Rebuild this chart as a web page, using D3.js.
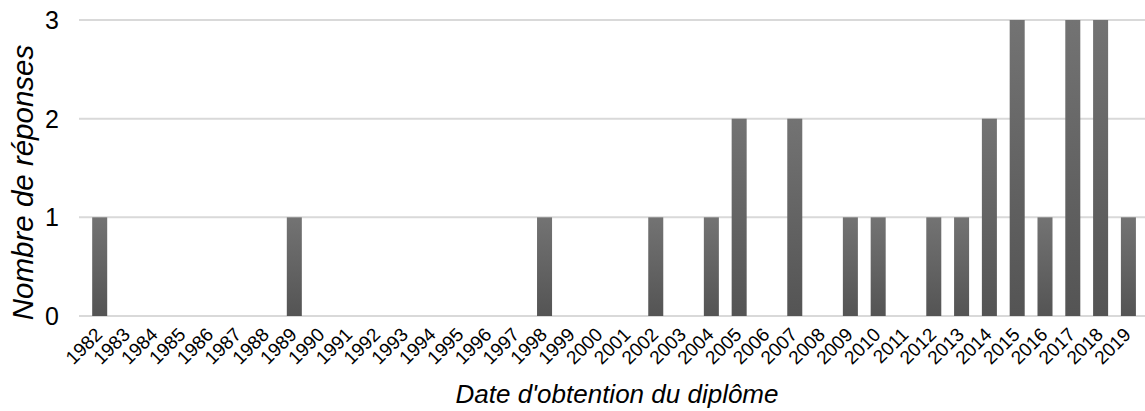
<!DOCTYPE html>
<html>
<head>
<meta charset="utf-8">
<script src="https://cdn.jsdelivr.net/npm/d3@7"></script>
<style>
body { margin: 0; background: #fff; }
text { font-family: "Liberation Sans", Arial, sans-serif; }
</style>
</head>
<body>
<script>
var years = ['1982','1983','1984','1985','1986','1987','1988','1989','1990','1991','1992','1993','1994','1995','1996','1997','1998','1999','2000','2001','2002','2003','2004','2005','2006','2007','2008','2009','2010','2011','2012','2013','2014','2015','2016','2017','2018','2019'];
var counts = [1,0,0,0,0,0,0,1,0,0,0,0,0,0,0,0,1,0,0,0,1,0,1,2,0,2,0,1,1,0,1,1,2,3,1,3,3,1];
var yTicks = [0,1,2,3];

var svg = d3.select('body').append('svg')
	.attr('width', 1145)
	.attr('height', 411);

var grad = svg.append('defs').append('linearGradient')
	.attr('id', 'barGrad')
	.attr('x1', 0).attr('y1', 0).attr('x2', 0).attr('y2', 1);
grad.append('stop').attr('offset', '0%').attr('stop-color', '#737373');
grad.append('stop').attr('offset', '100%').attr('stop-color', '#545454');

var x = d3.scaleBand()
	.domain(years)
	.range([79.4, 1148.7])
	.padding(0.46);

var y = d3.scaleLinear()
	.domain([0, 3])
	.range([316, 20]);

// gridlines
svg.append('g')
	.selectAll('line')
	.data(yTicks)
	.enter().append('line')
	.attr('x1', 79)
	.attr('x2', 1145)
	.attr('y1', function(d){ return y(d); })
	.attr('y2', function(d){ return y(d); })
	.attr('stroke', '#d9d9d9')
	.attr('stroke-width', 2);

// y labels
svg.append('g')
	.selectAll('text')
	.data(yTicks)
	.enter().append('text')
	.attr('x', 59)
	.attr('y', function(d){ return y(d); })
	.attr('dy', '0.36em')
	.attr('text-anchor', 'end')
	.attr('font-size', 25)
	.attr('fill', '#000')
	.text(function(d){ return d; });

// bars
svg.append('g')
	.selectAll('rect')
	.data(counts)
	.enter().append('rect')
	.attr('x', function(d, i){ return x(years[i]); })
	.attr('width', x.bandwidth())
	.attr('y', function(d){ return y(d); })
	.attr('height', function(d){ return y(0) - y(d); })
	.attr('fill', 'url(#barGrad)');

// x labels
svg.append('g')
	.selectAll('text')
	.data(years)
	.enter().append('text')
	.attr('transform', function(d){
		return 'translate(' + (x(d) + x.bandwidth() / 2 - 6) + ',326) rotate(-45)';
	})
	.attr('text-anchor', 'end')
	.attr('dy', '0.72em')
	.attr('font-size', 19)
	.attr('fill', '#000')
	.text(function(d){ return d; });

svg.append('text')
	.attr('x', 617)
	.attr('y', 403)
	.attr('text-anchor', 'middle')
	.attr('font-size', 26)
	.attr('font-style', 'italic')
	.attr('fill', '#000')
	.text("Date d'obtention du diplôme");

svg.append('text')
	.attr('transform', 'translate(33,182.5) rotate(-90)')
	.attr('text-anchor', 'middle')
	.attr('font-size', 29.5)
	.attr('font-style', 'italic')
	.attr('fill', '#000')
	.text('Nombre de réponses');
</script>
</body>
</html>
